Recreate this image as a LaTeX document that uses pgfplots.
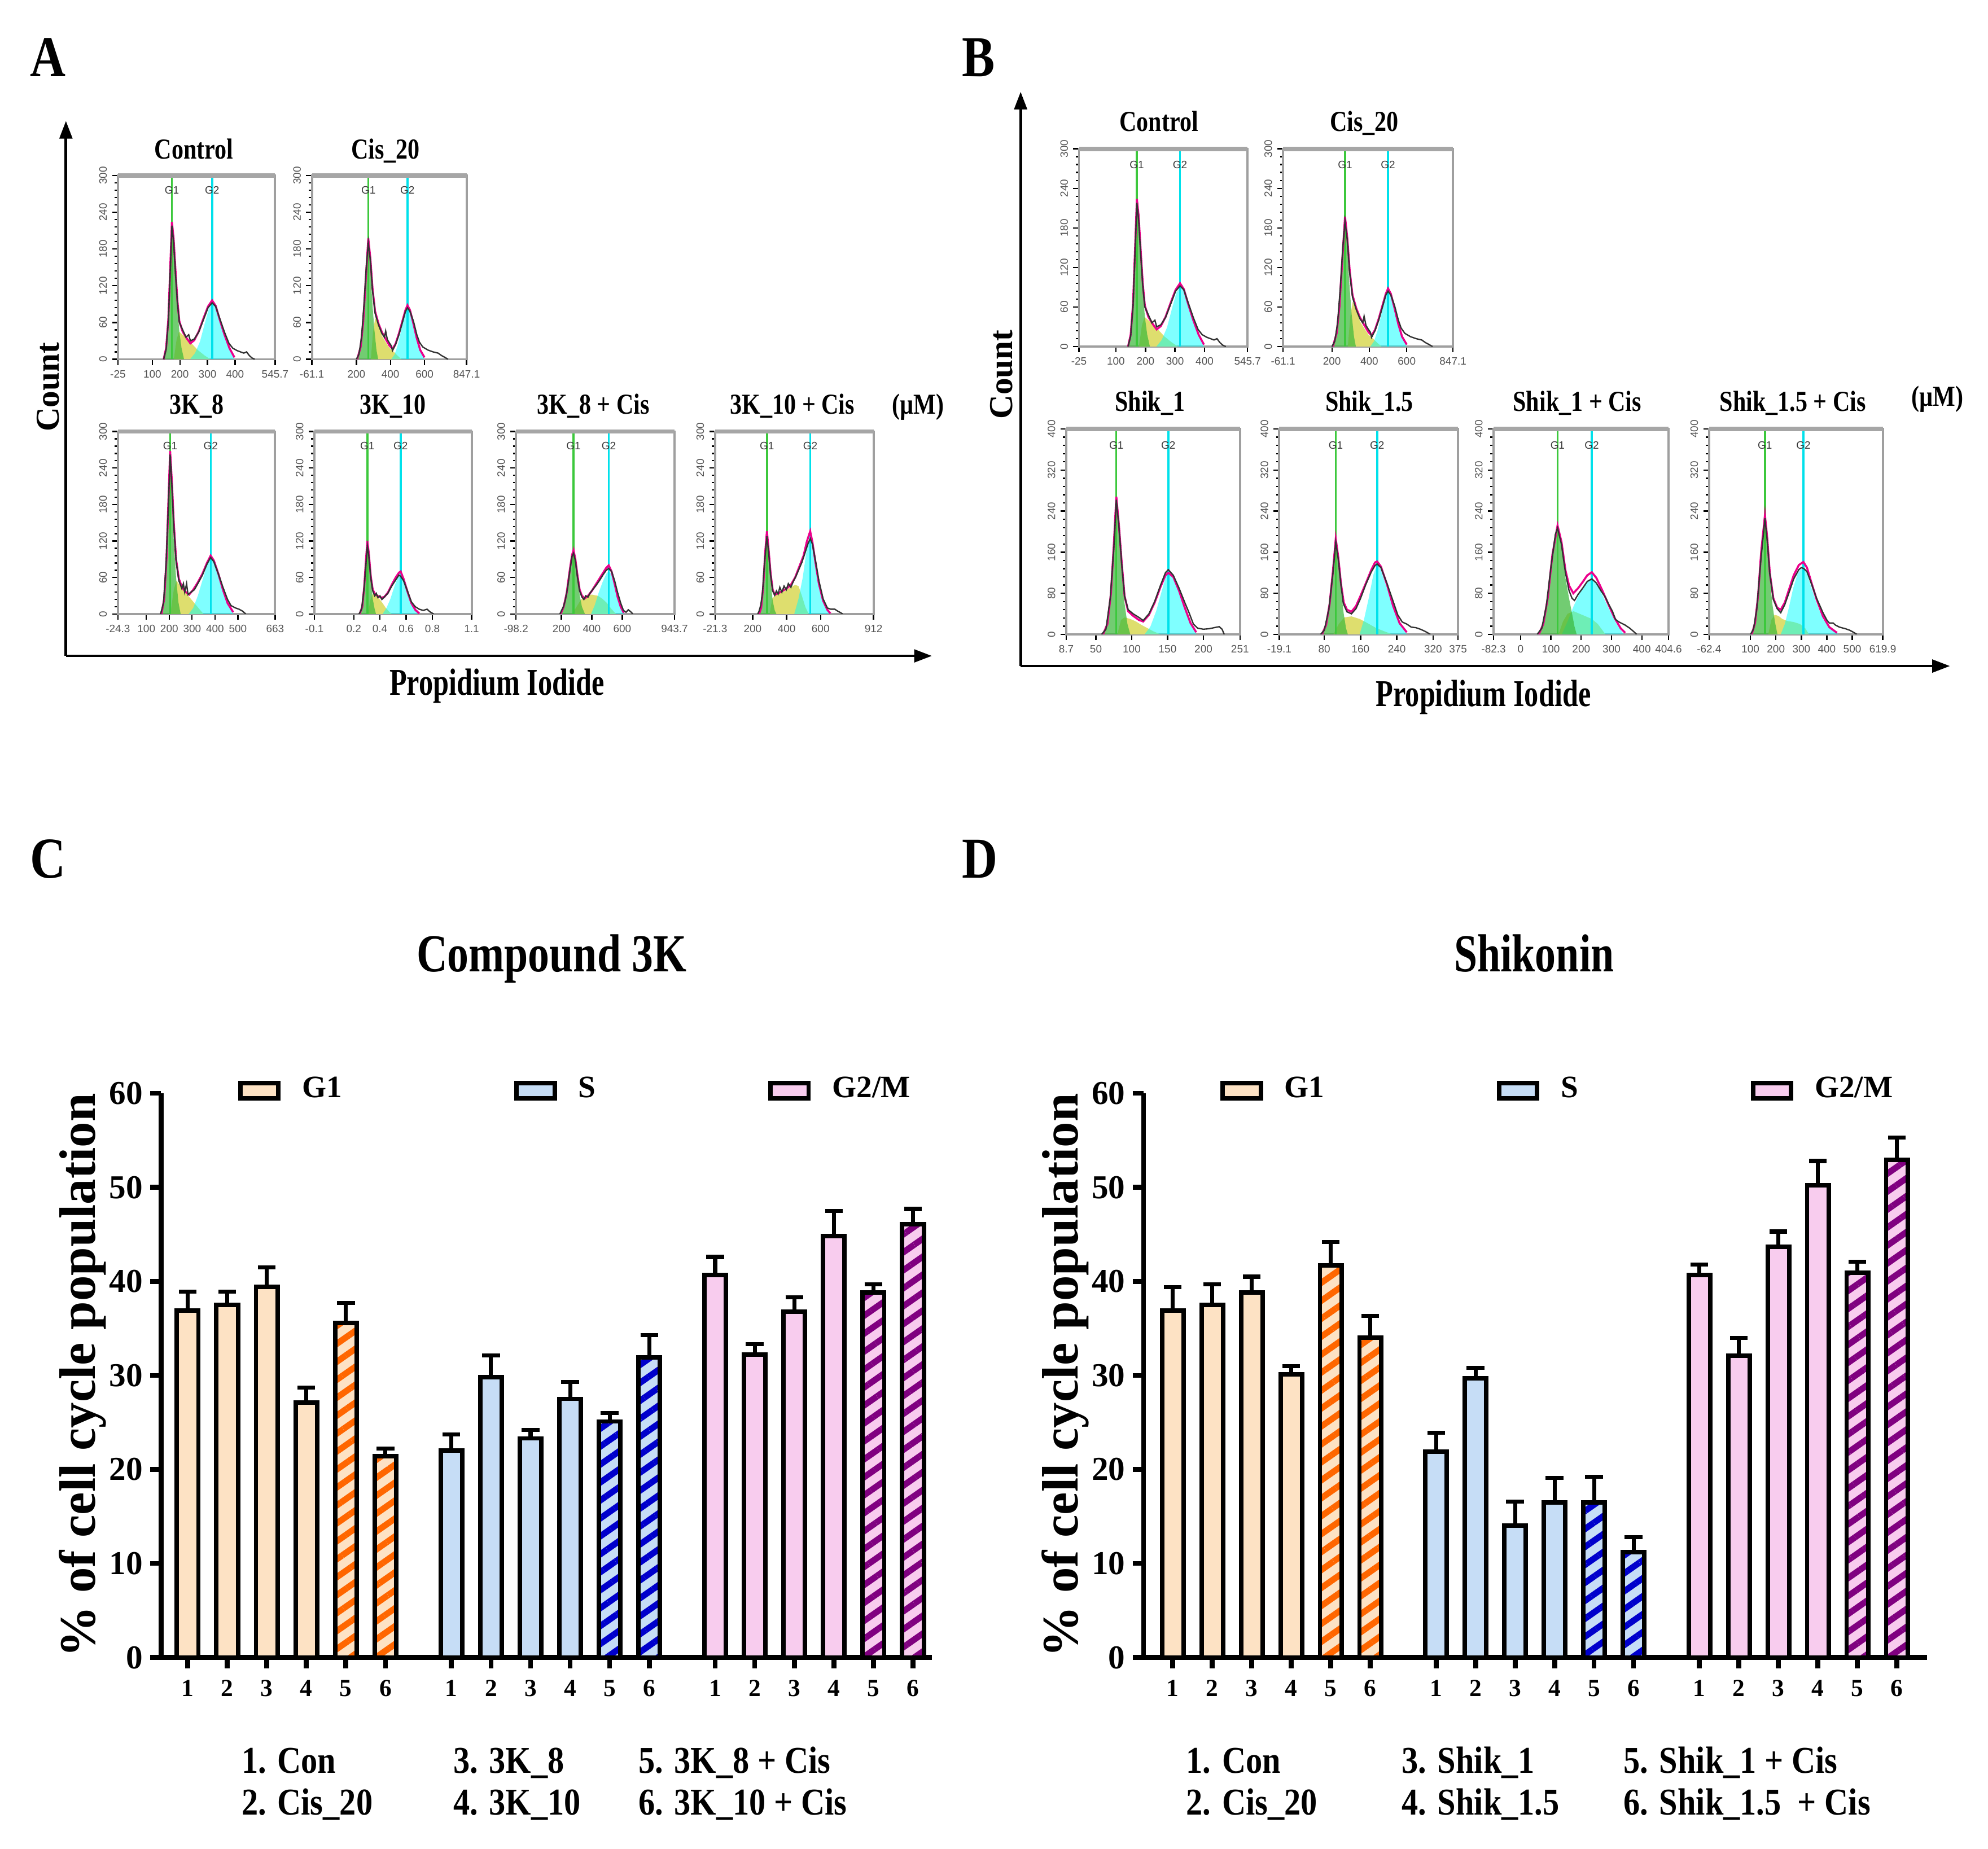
\documentclass[border=0pt]{standalone}
\usepackage{pgfplots}
\pgfplotsset{compat=1.18}
\usepackage{pgfplotstable}
\usepackage{graphicx}
\usepackage{fontspec}
\setmainfont{Liberation Serif}
\newfontfamily\ticksans{Liberation Sans}
\usetikzlibrary{patterns.meta,arrows.meta}

% ---------- colours ----------
\definecolor{g1fill}{RGB}{253,226,196}
\definecolor{g1hatch}{RGB}{255,102,0}
\definecolor{sfill}{RGB}{198,221,246}
\definecolor{shatch}{RGB}{0,0,204}
\definecolor{mfill}{RGB}{248,204,238}
\definecolor{mhatch}{RGB}{128,0,128}
\definecolor{histgreen}{RGB}{60,185,60}
\definecolor{histyellow}{RGB}{222,222,110}
\definecolor{histcyan}{RGB}{0,255,255}
\definecolor{g1line}{RGB}{60,200,60}
\definecolor{g2line}{RGB}{0,225,235}

\newcommand{\cz}[2]{\scalebox{#1}[1]{#2}}
\newcommand{\tinyfont}{\ticksans\fontsize{2.4}{2.8}\selectfont}

% ---------- DNA histograms: G1 peak, S phase, G2 peak, model fit, measured counts ----------
% Control
\pgfplotstableread[row sep=\\]{x y\\141 0\\150 18\\158 65\\165 150\\171 221\\177 195\\184 140\\191 85\\198 45\\206 18\\215 0\\}\ctrlGa
\pgfplotstableread[row sep=\\]{x y\\178 0\\188 32\\197 45\\215 38\\240 27\\265 15\\290 6\\310 0\\}\ctrlS
\pgfplotstableread[row sep=\\]{x y\\237 0\\255 10\\273 29\\290 58\\305 82\\317 90\\328 85\\340 68\\352 50\\366 32\\382 13\\398 0\\}\ctrlGb
\pgfplotstableread[row sep=\\]{x y\\141 0\\150 18\\158 65\\165 150\\171 224\\177 198\\184 145\\191 95\\198 62\\210 45\\225 34\\238 26\\252 31\\268 45\\285 66\\302 86\\317 96\\330 87\\345 64\\362 40\\380 18\\398 3\\}\ctrlFit
\pgfplotstableread[row sep=\\]{x y\\141 0\\150 16\\158 62\\165 146\\171 218\\177 192\\184 140\\191 92\\198 60\\210 48\\222 36\\232 40\\238 30\\252 33\\268 44\\285 64\\302 84\\317 92\\330 86\\345 66\\362 44\\378 26\\392 18\\408 14\\420 12\\432 10\\442 12\\452 6\\462 2\\472 0\\}\ctrlDat
% Cis_20
\pgfplotstableread[row sep=\\]{x y\\205 0\\225 20\\240 60\\255 130\\270 193\\280 160\\292 100\\305 50\\318 15\\328 0\\}\cisGa
\pgfplotstableread[row sep=\\]{x y\\285 0\\298 45\\311 68\\330 55\\350 38\\372 28\\395 18\\420 12\\445 5\\465 0\\}\cisS
\pgfplotstableread[row sep=\\]{x y\\405 0\\425 8\\445 25\\465 50\\485 75\\500 85\\515 78\\535 55\\555 32\\575 14\\600 0\\}\cisGb
\pgfplotstableread[row sep=\\]{x y\\205 0\\225 20\\240 60\\255 130\\270 197\\282 165\\295 115\\310 78\\330 58\\350 44\\372 33\\395 22\\412 17\\430 25\\450 42\\470 62\\488 80\\500 88\\515 80\\535 58\\555 34\\575 15\\600 3\\}\cisFit
\pgfplotstableread[row sep=\\]{x y\\200 0\\215 8\\230 35\\245 90\\258 150\\270 190\\282 162\\295 112\\310 75\\330 56\\350 42\\365 36\\372 46\\382 32\\395 26\\405 22\\412 14\\430 24\\450 40\\470 60\\488 78\\500 84\\515 78\\535 62\\555 40\\570 28\\590 20\\620 15\\650 12\\680 10\\700 6\\720 3\\738 0\\}\cisDat
% 3K_8
\pgfplotstableread[row sep=\\]{x y\\166 0\\178 25\\188 90\\196 180\\204 265\\212 200\\220 120\\230 60\\240 20\\250 0\\}\kaGa
\pgfplotstableread[row sep=\\]{x y\\205 0\\220 40\\232 55\\250 45\\270 35\\290 27\\310 18\\330 9\\350 0\\}\kaS
\pgfplotstableread[row sep=\\]{x y\\285 0\\305 10\\325 30\\345 55\\365 80\\381 92\\395 85\\415 62\\435 38\\455 17\\480 0\\}\kaGb
\pgfplotstableread[row sep=\\]{x y\\166 0\\178 25\\188 90\\196 180\\204 268\\212 215\\220 150\\230 90\\242 58\\255 45\\270 37\\287 32\\305 40\\325 52\\345 66\\365 84\\381 96\\395 88\\415 66\\435 40\\455 18\\480 3\\}\kaFit
\pgfplotstableread[row sep=\\]{x y\\162 0\\175 18\\186 80\\196 175\\204 262\\212 210\\220 145\\230 88\\242 55\\255 42\\262 50\\268 36\\276 50\\282 32\\295 36\\310 40\\325 50\\345 64\\365 82\\381 93\\395 86\\415 66\\435 44\\455 24\\470 14\\490 10\\505 8\\520 5\\535 0\\}\kaDat
% 3K_10
\pgfplotstableread[row sep=\\]{x y\\0.245 0\\0.265 12\\0.28 45\\0.293 85\\0.304 117\\0.315 95\\0.33 55\\0.345 25\\0.36 8\\0.37 0\\}\kbGa
\pgfplotstableread[row sep=\\]{x y\\0.31 0\\0.325 22\\0.345 33\\0.37 30\\0.395 25\\0.42 18\\0.445 10\\0.47 4\\0.49 0\\}\kbS
\pgfplotstableread[row sep=\\]{x y\\0.42 0\\0.45 10\\0.48 25\\0.51 45\\0.535 60\\0.558 63\\0.58 55\\0.61 35\\0.64 17\\0.67 6\\0.70 0\\}\kbGb
\pgfplotstableread[row sep=\\]{x y\\0.245 0\\0.265 12\\0.28 45\\0.293 88\\0.304 120\\0.315 100\\0.33 62\\0.345 40\\0.365 32\\0.39 29\\0.41 27\\0.433 28\\0.46 35\\0.49 48\\0.52 60\\0.545 68\\0.558 70\\0.58 58\\0.61 37\\0.64 18\\0.67 7\\0.70 1\\}\kbFit
\pgfplotstableread[row sep=\\]{x y\\0.24 0\\0.26 8\\0.278 40\\0.293 82\\0.304 112\\0.315 96\\0.33 60\\0.345 38\\0.36 30\\0.372 34\\0.385 27\\0.40 30\\0.415 24\\0.433 28\\0.46 34\\0.49 46\\0.52 56\\0.545 64\\0.558 62\\0.58 55\\0.61 38\\0.64 20\\0.67 12\\0.70 8\\0.73 6\\0.76 8\\0.78 4\\0.81 0\\}\kbDat
% 3K_8 + Cis
\pgfplotstableread[row sep=\\]{x y\\195 0\\215 10\\235 30\\255 65\\270 92\\280 102\\292 85\\305 58\\320 32\\335 12\\355 0\\}\kcGa
\pgfplotstableread[row sep=\\]{x y\\270 0\\300 12\\330 24\\360 30\\400 32\\440 30\\470 25\\500 18\\530 8\\560 0\\}\kcS
\pgfplotstableread[row sep=\\]{x y\\395 0\\420 15\\445 35\\470 52\\495 66\\511 71\\530 65\\550 48\\570 28\\590 12\\610 0\\}\kcGb
\pgfplotstableread[row sep=\\]{x y\\195 0\\215 12\\235 35\\255 72\\270 97\\280 105\\292 90\\305 65\\320 40\\335 30\\355 26\\375 30\\400 38\\425 48\\450 58\\475 68\\495 76\\511 80\\530 70\\550 50\\570 28\\590 12\\610 2\\}\kcFit
\pgfplotstableread[row sep=\\]{x y\\190 0\\205 8\\213 12\\225 22\\240 42\\255 70\\270 95\\280 100\\292 88\\305 62\\320 38\\335 28\\348 24\\360 30\\375 28\\390 35\\405 40\\425 46\\450 55\\475 65\\495 72\\511 75\\530 70\\550 55\\570 35\\590 18\\608 6\\625 3\\640 7\\655 4\\670 0\\}\kcDat
% 3K_10 + Cis
\pgfplotstableread[row sep=\\]{x y\\238 0\\250 10\\262 45\\274 100\\284 133\\294 100\\306 55\\318 22\\330 6\\340 0\\}\kdGa
\pgfplotstableread[row sep=\\]{x y\\300 0\\315 25\\330 30\\360 34\\390 38\\420 43\\450 48\\470 46\\490 30\\510 12\\530 0\\}\kdS
\pgfplotstableread[row sep=\\]{x y\\445 0\\470 25\\495 60\\515 100\\530 118\\539 123\\550 115\\570 85\\590 50\\615 22\\640 7\\658 0\\}\kdGb
\pgfplotstableread[row sep=\\]{x y\\238 0\\250 10\\262 45\\274 102\\284 136\\294 106\\306 66\\318 40\\330 32\\350 34\\375 38\\400 42\\425 48\\450 60\\475 78\\500 96\\520 120\\539 136\\552 118\\570 85\\590 50\\615 22\\640 7\\658 1\\}\kdFit
\pgfplotstableread[row sep=\\]{x y\\230 0\\238 5\\248 15\\258 35\\270 85\\284 128\\294 102\\306 64\\318 38\\330 31\\340 38\\350 33\\360 44\\372 36\\385 46\\398 40\\410 50\\425 44\\440 54\\455 62\\470 72\\490 85\\510 102\\525 115\\539 124\\552 115\\570 88\\590 55\\615 25\\640 10\\660 8\\684 8\\700 5\\720 2\\730 0\\}\kdDat
% Shik_1
\pgfplotstableread[row sep=\\]{x y\\60 0\\66 20\\71 80\\75 170\\78.5 265\\82 210\\86 130\\90 60\\94 20\\98 0\\}\saGa
\pgfplotstableread[row sep=\\]{x y\\80 0\\85 28\\90 33\\98 30\\106 25\\114 18\\122 12\\130 6\\140 0\\}\saS
\pgfplotstableread[row sep=\\]{x y\\118 0\\126 15\\134 45\\142 85\\148 115\\151 120\\156 115\\164 88\\172 55\\180 25\\190 0\\}\saGb
\pgfplotstableread[row sep=\\]{x y\\60 0\\66 20\\71 80\\75 175\\78.5 268\\82 215\\86 140\\90 75\\95 45\\102 36\\110 28\\116 25\\124 38\\132 62\\140 92\\147 115\\151 120\\158 112\\166 85\\174 52\\182 22\\190 4\\}\saFit
\pgfplotstableread[row sep=\\]{x y\\58 0\\64 10\\70 70\\75 168\\78.5 262\\82 212\\86 138\\90 74\\95 48\\102 40\\110 33\\116 27\\124 40\\132 64\\140 95\\147 120\\151 126\\158 115\\166 90\\174 62\\180 42\\186 20\\192 12\\200 10\\208 11\\215 13\\222 15\\226 10\\229 0\\}\saDat
% Shik_1.5
\pgfplotstableread[row sep=\\]{x y\\75 0\\84 18\\92 60\\99 120\\105.4 183\\111 145\\117 85\\123 40\\128 12\\132 0\\}\sbGa
\pgfplotstableread[row sep=\\]{x y\\100 0\\112 20\\124 33\\140 35\\158 30\\175 22\\195 12\\215 5\\230 0\\}\sbS
\pgfplotstableread[row sep=\\]{x y\\158 0\\168 30\\178 70\\188 115\\196.6 138\\205 125\\218 90\\232 50\\246 20\\262 0\\}\sbGb
\pgfplotstableread[row sep=\\]{x y\\75 0\\84 18\\92 60\\99 122\\105.4 186\\111 150\\117 98\\123 62\\130 48\\140 44\\150 55\\160 75\\172 100\\184 126\\192 140\\196.6 142\\205 132\\218 98\\232 55\\246 22\\262 4\\}\sbFit
\pgfplotstableread[row sep=\\]{x y\\72 0\\80 8\\90 48\\99 118\\105.4 180\\111 146\\117 96\\122 60\\130 44\\140 40\\150 50\\160 70\\172 98\\184 122\\192 134\\196.6 137\\205 130\\218 100\\232 64\\242 38\\252 24\\262 20\\272 14\\282 13\\292 10\\302 6\\310 2\\314 0\\}\sbDat
% Shik_1 + Cis
\pgfplotstableread[row sep=\\]{x y\\60 0\\75 20\\90 70\\105 150\\122 205\\135 170\\148 110\\160 70\\170 40\\178 15\\185 0\\}\scGa
\pgfplotstableread[row sep=\\]{x y\\125 0\\140 25\\155 40\\175 45\\195 40\\215 35\\235 30\\255 20\\270 8\\280 0\\}\scS
\pgfplotstableread[row sep=\\]{x y\\136 0\\155 25\\175 55\\195 80\\215 100\\235 107\\255 95\\275 70\\295 45\\315 22\\340 0\\}\scGb
\pgfplotstableread[row sep=\\]{x y\\60 0\\75 20\\90 72\\105 155\\122 212\\135 180\\148 125\\160 95\\174 80\\190 90\\205 102\\220 115\\235 121\\250 110\\270 85\\290 58\\310 32\\330 12\\345 3\\}\scFit
\pgfplotstableread[row sep=\\]{x y\\55 0\\70 12\\85 55\\100 130\\115 195\\122 207\\135 175\\148 120\\160 85\\170 70\\178 66\\190 78\\205 90\\220 103\\235 108\\250 100\\265 85\\280 72\\292 57\\303 45\\313 29\\325 24\\345 18\\360 12\\372 6\\383 0\\}\scDat
% Shik_1.5 + Cis
\pgfplotstableread[row sep=\\]{x y\\105 0\\118 20\\130 70\\142 150\\157 228\\166 180\\176 110\\186 60\\196 25\\206 0\\}\sdGa
\pgfplotstableread[row sep=\\]{x y\\170 0\\182 28\\195 38\\210 36\\225 30\\245 26\\270 24\\295 20\\315 12\\330 0\\}\sdS
\pgfplotstableread[row sep=\\]{x y\\219 0\\235 20\\250 50\\268 90\\285 118\\300 128\\308 128\\322 118\\340 90\\360 60\\385 30\\410 12\\447 0\\}\sdGb
\pgfplotstableread[row sep=\\]{x y\\105 0\\118 22\\130 75\\142 160\\157 232\\166 188\\176 120\\190 70\\205 52\\219 48\\235 62\\252 88\\270 115\\290 135\\308 141\\322 130\\340 100\\360 68\\385 35\\410 14\\440 3\\}\sdFit
\pgfplotstableread[row sep=\\]{x y\\100 0\\112 10\\125 50\\140 140\\157 226\\166 182\\176 118\\190 68\\205 50\\219 42\\235 58\\252 82\\270 108\\290 126\\300 130\\310 128\\322 122\\340 98\\360 70\\385 42\\400 28\\410 22\\425 22\\434 18\\450 14\\473 11\\490 8\\505 4\\518 0\\}\sdDat

% one histogram: tables G1, S, G2, fit, counts; G1 and G2 channel; y maximum
\newcommand{\histoplots}[8]{%
  \addplot[draw=none, fill=histyellow] table {#2} \closedcycle;
  \addplot[draw=none, fill=histcyan, fill opacity=0.5] table {#3} \closedcycle;
  \addplot[draw=none, fill=histgreen, fill opacity=0.72] table {#1} \closedcycle;
  \addplot[g1line, line width=0.45pt] coordinates {(#6,0) (#6,#8)};
  \addplot[g2line, line width=0.45pt] coordinates {(#7,0) (#7,#8)};
  \addplot[magenta, line width=0.45pt] table {#4};
  \addplot[black!80, line width=0.3pt] table {#5};
  \node[font=\tinyfont, text=gray!45!black, inner sep=0.3pt] at (axis cs:#6,{0.92*#8}) {G1};
  \node[font=\tinyfont, text=gray!45!black, inner sep=0.3pt] at (axis cs:#7,{0.92*#8}) {G2};
}

\pgfplotsset{
  histo/.style={
    scale only axis, anchor=south west,
    ymin=0, ymax=300,
    ytick={0,60,120,180,240,300}, yticklabels={0,60,120,180,240,300},
    axis line style={draw=gray!75, line width=0.5pt},
    tick style={black, line width=0.3pt},
    major tick length=0.045cm, minor tick length=0.025cm,
    tick align=outside, tick pos=left,
    minor x tick num=4, minor y tick num=4,
    ticklabel style={font=\tinyfont, text=gray!65!black},
    xticklabel style={inner sep=1pt},
    yticklabel style={rotate=90, anchor=south, inner sep=1pt},
    after end axis/.code={\draw[gray!70, line width=1pt] (rel axis cs:0,1) -- (rel axis cs:1,1);},
  },
  histofour/.style={histo, ymax=400,
    ytick={0,80,160,240,320,400}, yticklabels={0,80,160,240,320,400}},
  plainbar/.style={ybar, bar shift=0pt, bar width=0.17cm, fill=#1, draw=black, line width=1pt,
    legend image code/.code={\draw[fill=#1, draw=black, line width=1pt] (0cm,-0.06cm) rectangle (0.3cm,0.06cm);}},
  stripebar/.style 2 args={ybar, bar shift=0pt, bar width=0.17cm, preaction={fill=#1},
    pattern={Lines[angle=35,distance=3.3pt,line width=1.4pt]}, pattern color=#2,
    draw=black, line width=1pt, forget plot},
  ebar/.style={error bars/.cd, y dir=plus, y explicit,
    error bar style={line width=0.9pt, black},
    error mark options={rotate=90, mark size=0.07cm, line width=0.9pt, black}},
  bars/.style={
    scale only axis, anchor=south west,
    ymin=0, ymax=60,
    axis x line*=bottom, axis y line*=left,
    axis line style={line width=1.1pt, black},
    ytick={0,10,...,60},
    xtick={1,2,3,4,5,6,7.667,8.667,9.667,10.667,11.667,12.667,14.333,15.333,16.333,17.333,18.333,19.333},
    xticklabels={1,2,3,4,5,6,1,2,3,4,5,6,1,2,3,4,5,6},
    tick align=outside, major tick length=0.085cm,
    tick style={line width=1.1pt, black},
    /pgf/number format/assume math mode=true,
    yticklabel style={font=\bfseries\fontsize{7.5}{8}\selectfont, inner sep=1.5pt},
    xticklabel style={font=\bfseries\fontsize{5.5}{6}\selectfont, inner sep=2.5pt},
    ylabel={\% of cell cycle population},
    ylabel style={font=\bfseries\fontsize{11.5}{12}\selectfont, anchor=center},
    legend columns=3, legend cell align=left,
    legend style={draw=none, fill=none, inner sep=0pt, anchor=west,
      font=\bfseries\fontsize{7}{8}\selectfont,
      /tikz/every even column/.append style={column sep=1.29cm},
      /tikz/every odd column/.append style={column sep=0.1cm}},
    clip=false,
  },
}

\begin{document}
\begin{tikzpicture}
\path[use as bounding box] (0,0) rectangle (15.68,14.584);

% ---------- panel frames ----------
\draw[line width=0.6pt, -{Triangle[length=0.14cm,width=0.1cm]}] (0.52,9.41) -- (0.52,13.63);
\draw[line width=0.6pt, -{Triangle[length=0.14cm,width=0.1cm]}] (0.52,9.41) -- (7.35,9.41);
\draw[line width=0.6pt, -{Triangle[length=0.14cm,width=0.1cm]}] (8.05,9.33) -- (8.05,13.86);
\draw[line width=0.6pt, -{Triangle[length=0.14cm,width=0.1cm]}] (8.05,9.33) -- (15.38,9.33);

% ---------- panel A ----------
\begin{axis}[histo, at={(0.93cm,11.75cm)}, width=1.24cm, height=1.45cm,
  xmin=-25, xmax=545.7, xtick={-25,100,200,300,400,545.7}, xticklabels={-25,100,200,300,400,545.7}]
\histoplots{\ctrlGa}{\ctrlS}{\ctrlGb}{\ctrlFit}{\ctrlDat}{171}{317}{300}
\end{axis}
\begin{axis}[histo, at={(2.46cm,11.75cm)}, width=1.22cm, height=1.45cm,
  xmin=-61.1, xmax=847.1, xtick={-61.1,200,400,600,847.1}, xticklabels={-61.1,200,400,600,847.1}]
\histoplots{\cisGa}{\cisS}{\cisGb}{\cisFit}{\cisDat}{270.6}{499.5}{300}
\end{axis}
\begin{axis}[histo, at={(0.93cm,9.74cm)}, width=1.24cm, height=1.44cm,
  xmin=-24.3, xmax=663, xtick={-24.3,100,200,300,400,500,663}, xticklabels={-24.3,100,200,300,400,500,663}]
\histoplots{\kaGa}{\kaS}{\kaGb}{\kaFit}{\kaDat}{204.4}{381.5}{300}
\end{axis}
\begin{axis}[histo, at={(2.48cm,9.74cm)}, width=1.24cm, height=1.44cm,
  xmin=-0.1, xmax=1.1, xtick={-0.1,0.2,0.4,0.6,0.8,1.1}, xticklabels={-0.1,0.2,0.4,0.6,0.8,1.1}]
\histoplots{\kbGa}{\kbS}{\kbGb}{\kbFit}{\kbDat}{0.304}{0.558}{300}
\end{axis}
\begin{axis}[histo, at={(4.07cm,9.74cm)}, width=1.25cm, height=1.44cm,
  xmin=-98.2, xmax=943.7, xtick={-98.2,200,400,600,943.7}, xticklabels={-98.2,200,400,600,943.7}]
\histoplots{\kcGa}{\kcS}{\kcGb}{\kcFit}{\kcDat}{279.6}{511.1}{300}
\end{axis}
\begin{axis}[histo, at={(5.64cm,9.74cm)}, width=1.25cm, height=1.44cm,
  xmin=-21.3, xmax=912, xtick={-21.3,200,400,600,912}, xticklabels={-21.3,200,400,600,912}]
\histoplots{\kdGa}{\kdS}{\kdGb}{\kdFit}{\kdDat}{284.3}{539}{300}
\end{axis}

% ---------- panel B ----------
\begin{axis}[histo, at={(8.51cm,11.85cm)}, width=1.33cm, height=1.56cm,
  xmin=-25, xmax=545.7, xtick={-25,100,200,300,400,545.7}, xticklabels={-25,100,200,300,400,545.7}]
\histoplots{\ctrlGa}{\ctrlS}{\ctrlGb}{\ctrlFit}{\ctrlDat}{171}{317}{300}
\end{axis}
\begin{axis}[histo, at={(10.12cm,11.85cm)}, width=1.34cm, height=1.56cm,
  xmin=-61.1, xmax=847.1, xtick={-61.1,200,400,600,847.1}, xticklabels={-61.1,200,400,600,847.1}]
\histoplots{\cisGa}{\cisS}{\cisGb}{\cisFit}{\cisDat}{270.6}{499.5}{300}
\end{axis}
\begin{axis}[histofour, at={(8.41cm,9.58cm)}, width=1.37cm, height=1.62cm,
  xmin=8.7, xmax=251, xtick={8.7,50,100,150,200,251}, xticklabels={8.7,50,100,150,200,251}]
\histoplots{\saGa}{\saS}{\saGb}{\saFit}{\saDat}{78.5}{151}{400}
\end{axis}
\begin{axis}[histofour, at={(10.09cm,9.58cm)}, width=1.41cm, height=1.62cm,
  xmin=-19.1, xmax=375, xtick={-19.1,80,160,240,320,375}, xticklabels={-19.1,80,160,240,320,375}]
\histoplots{\sbGa}{\sbS}{\sbGb}{\sbFit}{\sbDat}{105.4}{196.6}{400}
\end{axis}
\begin{axis}[histofour, at={(11.78cm,9.58cm)}, width=1.38cm, height=1.62cm,
  xmin=-89, xmax=488, xtick={-89,0,100,200,300,400,488}, xticklabels={-82.3,0,100,200,300,400,404.6}]
\histoplots{\scGa}{\scS}{\scGb}{\scFit}{\scDat}{122}{235}{400}
\end{axis}
\begin{axis}[histofour, at={(13.48cm,9.58cm)}, width=1.37cm, height=1.62cm,
  xmin=-62.4, xmax=619.9, xtick={-62.4,100,200,300,400,500,619.9}, xticklabels={-62.4,100,200,300,400,500,619.9}]
\histoplots{\sdGa}{\sdS}{\sdGb}{\sdFit}{\sdDat}{157}{308}{400}
\end{axis}

% ---------- panel C ----------
\begin{axis}[bars, at={(1.27cm,1.51cm)}, width=6.08cm, height=4.45cm, xmin=0.327, xmax=19.81,
  legend style={at={(axis description cs:0.0987,1.0045)}},
  ylabel style={at={(axis description cs:-0.102,0.5)}}]
\addplot[plainbar=g1fill, ebar] coordinates {(1,36.9) +- (0,2.0) (2,37.5) +- (0,1.4) (3,39.4) +- (0,2.1) (4,27.1) +- (0,1.6)};
\addlegendentry{G1}
\addplot[plainbar=sfill, ebar] coordinates {(7.667,22.0) +- (0,1.7) (8.667,29.8) +- (0,2.3) (9.667,23.3) +- (0,0.9) (10.667,27.5) +- (0,1.8)};
\addlegendentry{S}
\addplot[plainbar=mfill, ebar] coordinates {(14.333,40.7) +- (0,1.9) (15.333,32.2) +- (0,1.1) (16.333,36.8) +- (0,1.5) (17.333,44.8) +- (0,2.7)};
\addlegendentry{G2/M}
\addplot[stripebar={g1fill}{g1hatch}, ebar] coordinates {(5,35.6) +- (0,2.1) (6,21.4) +- (0,0.8)};
\addplot[stripebar={sfill}{shatch}, ebar] coordinates {(11.667,25.1) +- (0,0.9) (12.667,31.9) +- (0,2.4)};
\addplot[stripebar={mfill}{mhatch}, ebar] coordinates {(18.333,38.8) +- (0,0.9) (19.333,46.1) +- (0,1.6)};
\end{axis}

% ---------- panel D ----------
\begin{axis}[bars, at={(9.02cm,1.51cm)}, width=6.18cm, height=4.45cm, xmin=0.262, xmax=20.1,
  legend style={at={(axis description cs:0.097,1.0045)}},
  ylabel style={at={(axis description cs:-0.1,0.5)}}]
\addplot[plainbar=g1fill, ebar] coordinates {(1,36.9) +- (0,2.5) (2,37.5) +- (0,2.2) (3,38.8) +- (0,1.7) (4,30.1) +- (0,0.9)};
\addlegendentry{G1}
\addplot[plainbar=sfill, ebar] coordinates {(7.667,21.9) +- (0,2.0) (8.667,29.7) +- (0,1.1) (9.667,14.0) +- (0,2.6) (10.667,16.5) +- (0,2.6)};
\addlegendentry{S}
\addplot[plainbar=mfill, ebar] coordinates {(14.333,40.7) +- (0,1.1) (15.333,32.1) +- (0,1.9) (16.333,43.7) +- (0,1.6) (17.333,50.2) +- (0,2.6)};
\addlegendentry{G2/M}
\addplot[stripebar={g1fill}{g1hatch}, ebar] coordinates {(5,41.7) +- (0,2.5) (6,34.0) +- (0,2.3)};
\addplot[stripebar={sfill}{shatch}, ebar] coordinates {(11.667,16.5) +- (0,2.7) (12.667,11.2) +- (0,1.6)};
\addplot[stripebar={mfill}{mhatch}, ebar] coordinates {(18.333,40.9) +- (0,1.2) (19.333,52.9) +- (0,2.4)};
\end{axis}

% ---------- text ----------
\node[anchor=base, font=\bfseries\fontsize{13}{14}\selectfont] at (0.38,13.98) {\cz{0.85}{A}};
\node[anchor=base, font=\bfseries\fontsize{13}{14}\selectfont] at (7.72,13.98) {\cz{0.85}{B}};
\node[anchor=base, font=\bfseries\fontsize{13}{14}\selectfont] at (0.38,7.66) {\cz{0.85}{C}};
\node[anchor=base, font=\bfseries\fontsize{13}{14}\selectfont] at (7.73,7.66) {\cz{0.85}{D}};

\node[rotate=90, font=\bfseries\fontsize{7.5}{8}\selectfont] at (0.38,11.53) {Count};
\node[rotate=90, font=\bfseries\fontsize{7.5}{8}\selectfont] at (7.90,11.63) {Count};
\node[anchor=base, font=\bfseries\fontsize{8.5}{9}\selectfont] at (3.92,9.10) {\cz{0.75}{Propidium Iodide}};
\node[anchor=base, font=\bfseries\fontsize{8.5}{9}\selectfont] at (11.70,9.01) {\cz{0.75}{Propidium Iodide}};

\begin{scope}[every node/.style={anchor=base, font=\bfseries\fontsize{6.5}{7}\selectfont}]
\node at (1.53,13.33) {\cz{0.82}{Control}};
\node at (3.04,13.33) {\cz{0.82}{Cis\_20}};
\node at (1.55,11.32) {\cz{0.82}{3K\_8}};
\node at (3.10,11.32) {\cz{0.82}{3K\_10}};
\node at (4.68,11.32) {\cz{0.82}{3K\_8 + Cis}};
\node at (6.25,11.32) {\cz{0.82}{3K\_10 + Cis}};
\node at (7.24,11.32) {\cz{0.82}{(µM)}};
\node at (9.14,13.55) {\cz{0.82}{Control}};
\node at (10.76,13.55) {\cz{0.82}{Cis\_20}};
\node at (9.07,11.34) {\cz{0.82}{Shik\_1}};
\node at (10.80,11.34) {\cz{0.82}{Shik\_1.5}};
\node at (12.44,11.34) {\cz{0.82}{Shik\_1 + Cis}};
\node at (14.14,11.34) {\cz{0.82}{Shik\_1.5 + Cis}};
\node at (15.28,11.38) {\cz{0.82}{(µM)}};
\end{scope}

\node[anchor=base, font=\bfseries\fontsize{12}{13}\selectfont] at (4.35,6.92) {\cz{0.8}{Compound 3K}};
\node[anchor=base, font=\bfseries\fontsize{12}{13}\selectfont] at (12.10,6.92) {\cz{0.78}{Shikonin}};

\begin{scope}[every node/.style={anchor=base west, inner sep=0pt, font=\bfseries\fontsize{8.5}{9}\selectfont}]
\node at (1.90,0.60) {\cz{0.87}{1. Con}};
\node at (1.90,0.27) {\cz{0.87}{2. Cis\_20}};
\node at (3.57,0.60) {\cz{0.87}{3. 3K\_8}};
\node at (3.57,0.27) {\cz{0.87}{4. 3K\_10}};
\node at (5.03,0.60) {\cz{0.87}{5. 3K\_8 + Cis}};
\node at (5.03,0.27) {\cz{0.87}{6. 3K\_10 + Cis}};
\node at (9.35,0.60) {\cz{0.87}{1. Con}};
\node at (9.35,0.27) {\cz{0.87}{2. Cis\_20}};
\node at (11.05,0.60) {\cz{0.87}{3. Shik\_1}};
\node at (11.05,0.27) {\cz{0.87}{4. Shik\_1.5}};
\node at (12.80,0.60) {\cz{0.87}{5. Shik\_1 + Cis}};
\node at (12.80,0.27) {\cz{0.87}{6. Shik\_1.5~ + Cis}};
\end{scope}
\end{tikzpicture}
\end{document}
